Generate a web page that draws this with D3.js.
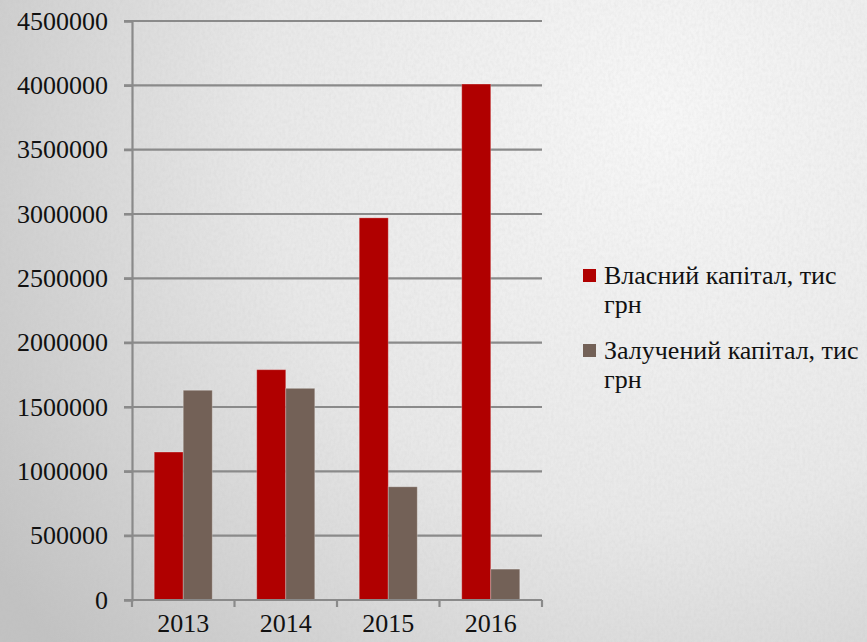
<!DOCTYPE html>
<html>
<head>
<meta charset="utf-8">
<script src="https://cdn.jsdelivr.net/npm/d3@7"></script>
<style>
  html, body { margin: 0; padding: 0; }
  body { width: 867px; height: 642px; overflow: hidden; }
</style>
</head>
<body>
<svg id="chart" width="867" height="642"></svg>
<script>
(function () {
    'use strict';

    var years = ['2013', '2014', '2015', '2016'];
    var seriesNames = ['Власний капітал, тис грн', 'Залучений капітал, тис грн'];
    var ownCapital = [1150000, 1790000, 2970000, 4010000];
    var borrowedCapital = [1630000, 1645000, 880000, 240000];
    var yTicks = [0, 500000, 1000000, 1500000, 2000000, 2500000, 3000000, 3500000, 4000000, 4500000];
    var colors = ['#b00000', '#736157'];

    var FONT = "'Liberation Serif', 'Times New Roman', serif";

    var svg = d3.select('#chart');
    var W = 867, H = 642;

    // background: light grey paper, darker towards the edges
    var defs = svg.append('defs');
    var grad = defs.append('radialGradient')
        .attr('id', 'bg').attr('gradientUnits', 'userSpaceOnUse')
        .attr('cx', 660).attr('cy', 120).attr('r', 800);
    grad.append('stop').attr('offset', '0').attr('stop-color', '#f7f7f7');
    grad.append('stop').attr('offset', '0.5').attr('stop-color', '#e8e8e8');
    grad.append('stop').attr('offset', '1').attr('stop-color', '#c2c2c2');

    var noise = defs.append('filter').attr('id', 'paper')
        .attr('x', 0).attr('y', 0).attr('width', '100%').attr('height', '100%');
    noise.append('feTurbulence').attr('type', 'fractalNoise')
        .attr('baseFrequency', '0.35 0.25').attr('numOctaves', 3).attr('seed', 4);
    noise.append('feColorMatrix').attr('type', 'matrix')
        .attr('values', '0 0 0 0 0.5  0 0 0 0 0.5  0 0 0 0 0.5  0 0 0 -1.1 0.75');

    svg.append('rect').attr('width', W).attr('height', H).attr('fill', 'url(#bg)');
    svg.append('rect').attr('width', W).attr('height', H)
        .attr('filter', 'url(#paper)').attr('opacity', 0.22);

    var left = 132, right = 542, top = 21, bottom = 600;

    var x0 = d3.scaleBand().domain(years).range([left, right])
        .paddingInner(0.434).paddingOuter(0.217);
    var x1 = d3.scaleBand().domain([0, 1]).range([0, x0.bandwidth()]);
    var y = d3.scaleLinear().domain([0, 4500000]).range([bottom, top]);

    var axisColor = '#8a8a8a';

    // gridlines
    svg.append('g').selectAll('line')
        .data(yTicks.filter(function (d) { return d > 0; }))
        .enter().append('line')
        .attr('x1', left - 8).attr('x2', right)
        .attr('y1', function (d) { return y(d); })
        .attr('y2', function (d) { return y(d); })
        .attr('stroke', axisColor).attr('stroke-width', 2.2);

    // bars
    var data = years.map(function (yr, i) {
        return { year: yr, values: [ownCapital[i], borrowedCapital[i]] };
    });
    var groups = svg.append('g').selectAll('g')
        .data(data).enter().append('g')
        .attr('transform', function (d) { return 'translate(' + x0(d.year) + ',0)'; });
    groups.selectAll('rect')
        .data(function (d) { return d.values.map(function (v, k) { return { k: k, v: v }; }); })
        .enter().append('rect')
        .attr('x', function (d) { return x1(d.k); })
        .attr('width', x1.bandwidth())
        .attr('y', function (d) { return y(d.v); })
        .attr('height', function (d) { return bottom - y(d.v); })
        .attr('fill', function (d) { return colors[d.k]; })
        .attr('stroke', 'rgba(255,255,255,0.25)').attr('stroke-width', 1);

    // y axis
    var yAxis = d3.axisLeft(y).tickValues(yTicks).tickSize(8).tickPadding(16)
        .tickFormat(d3.format('d'));
    var gy = svg.append('g').attr('transform', 'translate(' + left + ',0)').call(yAxis);
    gy.attr('font-family', null).attr('font-size', null);
    gy.select('.domain').attr('stroke', axisColor).attr('stroke-width', 2.2);
    gy.selectAll('.tick line').attr('stroke', axisColor).attr('stroke-width', 2.2);
    gy.selectAll('.tick text').style('font-family', FONT).style('font-size', '26px')
        .attr('fill', '#111');

    // x axis
    var xAxis = d3.axisBottom(x0).tickSize(0).tickPadding(14);
    var gx = svg.append('g').attr('transform', 'translate(0,' + bottom + ')').call(xAxis);
    gx.attr('font-family', null).attr('font-size', null);
    gx.select('.domain').remove();
    gx.append('line').attr('x1', left - 8).attr('x2', right)
        .attr('stroke', axisColor).attr('stroke-width', 2.2);
    gx.selectAll('.sep').data(d3.range(years.length + 1)).enter().append('line')
        .attr('class', 'sep')
        .attr('x1', function (i) { return left + i * x0.step(); })
        .attr('x2', function (i) { return left + i * x0.step(); })
        .attr('y1', 0).attr('y2', 7)
        .attr('stroke', axisColor).attr('stroke-width', 2.2);
    gx.selectAll('.tick text').style('font-family', FONT).style('font-size', '26px')
        .attr('fill', '#111');

    // legend
    var legend = svg.append('g').attr('transform', 'translate(583,269)');
    var item = legend.selectAll('g').data(seriesNames).enter().append('g')
        .attr('transform', function (d, i) { return 'translate(0,' + i * 75 + ')'; });
    item.append('rect').attr('width', 13).attr('height', 13)
        .attr('fill', function (d, i) { return colors[i]; });
    var txt = item.append('text').attr('x', 21).attr('y', 15)
        .style('font-family', FONT).style('font-size', '26px').attr('fill', '#111');
    txt.append('tspan').attr('x', 21).text(function (d) { return d.replace(/ грн$/, ''); });
    txt.append('tspan').attr('x', 21).attr('dy', 29).text('грн');
}());
</script>
</body>
</html>
